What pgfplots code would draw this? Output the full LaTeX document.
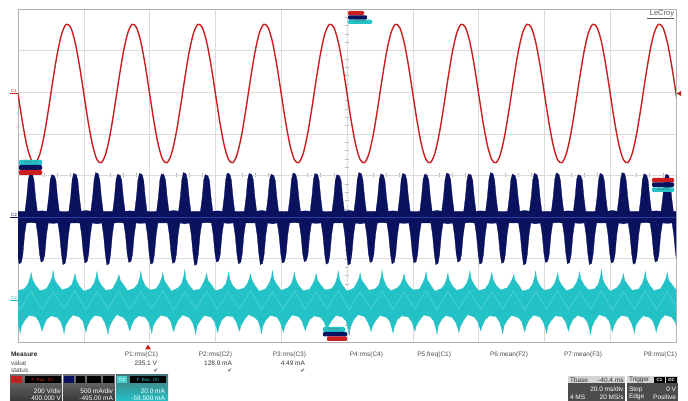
\documentclass[border=0pt]{standalone}
\usepackage{pgfplots}
\pgfplotsset{compat=1.18}
\usepackage{fontspec}
\setmainfont{Liberation Sans}
\newfontfamily\dejavu{DejaVu Sans}
\definecolor{lcred}{RGB}{204,30,30}
\definecolor{lcnavy}{RGB}{10,18,96}
\definecolor{lcnavyln}{RGB}{45,60,160}
\definecolor{lccyan}{RGB}{34,194,198}
\definecolor{lccyanlt}{RGB}{150,232,232}
\definecolor{lcteal}{RGB}{70,120,124}
\newcommand\fa{\fontsize{6.5}{7}\selectfont}
\newcommand\fb{\fontsize{4.5}{5}\selectfont}
\newcommand\fc{\fontsize{3}{3}\selectfont}
\begin{document}
\begin{tikzpicture}
\fill[white] (0,0) rectangle (688pt,401pt);
\path[use as bounding box] (0,0) rectangle (688pt,401pt);
% centre lines with minor ticks (under the traces)
\begin{scope}[x=1pt,y=-1pt,yshift=401pt]
 \draw[black!30, line width=0.5pt] (347,9) -- (347,342);
 \draw[black!30, line width=0.5pt] (18,175.5) -- (676,175.5);
 \foreach \i in {1,...,39} \draw[black!30, line width=0.4pt] (345,9+8.325*\i) -- (349,9+8.325*\i);
 \foreach \i in {1,...,49} \draw[black!30, line width=0.4pt] (18+13.16*\i,173.5) -- (18+13.16*\i,177.5);
\end{scope}
\begin{axis}[
  at={(18pt,59pt)}, anchor=south west, scale only axis,
  width=658pt, height=333pt,
  xmin=-6, xmax=294, ymin=-4, ymax=4,
  xtick={24,54,84,114,144,174,204,234,264}, ytick={-3,-2,-1,0,1,2,3},
  xticklabels={}, yticklabels={}, major tick length=0pt,
  grid=major, grid style={draw=black!14, line width=0.5pt},
  axis line style={draw=black!30, line width=0.6pt},
]
% C3 (cyan) band
\addplot[fill=lccyan, draw=lccyan, line width=0.3pt] coordinates {
(-8,-2.64) (-6,-2.77)
(-3,-2.72) (-1.4,-2.60) (-0.4,-2.44) (0,-2.33) (0.6,-2.50) (2,-2.64) (4,-2.77)
(7,-2.72) (8.6,-2.57) (9.6,-2.44) (10,-2.28) (10.6,-2.50) (12,-2.61) (14,-2.75)
(17,-2.70) (18.6,-2.62) (19.6,-2.45) (20,-2.36) (20.6,-2.52) (22,-2.66) (24,-2.78)
(27,-2.72) (28.6,-2.60) (29.6,-2.43) (30,-2.31) (30.6,-2.50) (32,-2.64) (34,-2.76)
(37,-2.73) (38.6,-2.58) (39.6,-2.46) (40,-2.38) (40.6,-2.51) (42,-2.62) (44,-2.77)
(47,-2.71) (48.6,-2.61) (49.6,-2.44) (50,-2.30) (50.6,-2.49) (52,-2.65) (54,-2.75)
(57,-2.72) (58.6,-2.59) (59.6,-2.45) (60,-2.34) (60.6,-2.51) (62,-2.63) (64,-2.78)
(67,-2.70) (68.6,-2.60) (69.6,-2.42) (70,-2.27) (70.6,-2.50) (72,-2.64) (74,-2.76)
(77,-2.73) (78.6,-2.57) (79.6,-2.44) (80,-2.35) (80.6,-2.52) (82,-2.61) (84,-2.77)
(87,-2.72) (88.6,-2.62) (89.6,-2.45) (90,-2.32) (90.6,-2.50) (92,-2.66) (94,-2.75)
(97,-2.71) (98.6,-2.60) (99.6,-2.46) (100,-2.37) (100.6,-2.51) (102,-2.64) (104,-2.78)
(107,-2.72) (108.6,-2.58) (109.6,-2.43) (110,-2.29) (110.6,-2.49) (112,-2.62) (114,-2.76)
(117,-2.70) (118.6,-2.61) (119.6,-2.44) (120,-2.33) (120.6,-2.50) (122,-2.65) (124,-2.77)
(127,-2.73) (128.6,-2.59) (129.6,-2.45) (130,-2.36) (130.6,-2.52) (132,-2.63) (134,-2.75)
(137,-2.72) (138.6,-2.60) (139.6,-2.44) (140,-2.30) (140.6,-2.50) (142,-2.64) (144,-2.78)
(147,-2.71) (148.6,-2.57) (149.6,-2.45) (150,-2.34) (150.6,-2.51) (152,-2.61) (154,-2.76)
(157,-2.72) (158.6,-2.62) (159.6,-2.43) (160,-2.28) (160.6,-2.49) (162,-2.66) (164,-2.77)
(167,-2.70) (168.6,-2.60) (169.6,-2.46) (170,-2.37) (170.6,-2.52) (172,-2.64) (174,-2.75)
(177,-2.73) (178.6,-2.58) (179.6,-2.44) (180,-2.31) (180.6,-2.50) (182,-2.62) (184,-2.78)
(187,-2.72) (188.6,-2.61) (189.6,-2.45) (190,-2.35) (190.6,-2.51) (192,-2.65) (194,-2.76)
(197,-2.71) (198.6,-2.59) (199.6,-2.43) (200,-2.29) (200.6,-2.49) (202,-2.63) (204,-2.77)
(207,-2.72) (208.6,-2.60) (209.6,-2.44) (210,-2.33) (210.6,-2.50) (212,-2.64) (214,-2.75)
(217,-2.70) (218.6,-2.57) (219.6,-2.46) (220,-2.38) (220.6,-2.52) (222,-2.61) (224,-2.78)
(227,-2.73) (228.6,-2.62) (229.6,-2.44) (230,-2.30) (230.6,-2.50) (232,-2.66) (234,-2.76)
(237,-2.72) (238.6,-2.60) (239.6,-2.45) (240,-2.34) (240.6,-2.51) (242,-2.64) (244,-2.77)
(247,-2.71) (248.6,-2.58) (249.6,-2.44) (250,-2.32) (250.6,-2.49) (252,-2.62) (254,-2.75)
(257,-2.72) (258.6,-2.61) (259.6,-2.42) (260,-2.27) (260.6,-2.50) (262,-2.65) (264,-2.78)
(267,-2.70) (268.6,-2.59) (269.6,-2.46) (270,-2.36) (270.6,-2.52) (272,-2.63) (274,-2.76)
(277,-2.73) (278.6,-2.60) (279.6,-2.44) (280,-2.31) (280.6,-2.50) (282,-2.64) (284,-2.77)
(287,-2.72) (288.6,-2.57) (289.6,-2.45) (290,-2.33) (290.6,-2.51) (292,-2.61) (294,-2.75)
(297,-2.72) (298.6,-2.60)
(299,-3.36) (297,-3.48) (295.6,-3.62) (295,-3.79) (294.6,-3.68) (293.6,-3.52) (292,-3.40)
(289,-3.35) (287,-3.46) (285.6,-3.63) (285,-3.76) (284.6,-3.67) (283.6,-3.51) (282,-3.41)
(279,-3.37) (277,-3.49) (275.6,-3.61) (275,-3.78) (274.6,-3.69) (273.6,-3.53) (272,-3.39)
(269,-3.36) (267,-3.47) (265.6,-3.62) (265,-3.75) (264.6,-3.68) (263.6,-3.50) (262,-3.40)
(259,-3.34) (257,-3.48) (255.6,-3.64) (255,-3.82) (254.6,-3.70) (253.6,-3.52) (252,-3.41)
(249,-3.36) (247,-3.46) (245.6,-3.61) (245,-3.74) (244.6,-3.67) (243.6,-3.51) (242,-3.39)
(239,-3.37) (237,-3.49) (235.6,-3.62) (235,-3.79) (234.6,-3.69) (233.6,-3.53) (232,-3.40)
(229,-3.35) (227,-3.47) (225.6,-3.63) (225,-3.76) (224.6,-3.68) (223.6,-3.50) (222,-3.41)
(219,-3.36) (217,-3.48) (215.6,-3.61) (215,-3.80) (214.6,-3.70) (213.6,-3.52) (212,-3.39)
(209,-3.37) (207,-3.46) (205.6,-3.62) (205,-3.73) (204.6,-3.67) (203.6,-3.51) (202,-3.40)
(199,-3.34) (197,-3.49) (195.6,-3.64) (195,-3.77) (194.6,-3.68) (193.6,-3.53) (192,-3.41)
(189,-3.36) (187,-3.47) (185.6,-3.62) (185,-3.81) (184.6,-3.69) (183.6,-3.50) (182,-3.39)
(179,-3.35) (177,-3.48) (175.6,-3.61) (175,-3.74) (174.6,-3.68) (173.6,-3.52) (172,-3.40)
(169,-3.37) (167,-3.46) (165.6,-3.63) (165,-3.78) (164.6,-3.70) (163.6,-3.51) (162,-3.41)
(159,-3.36) (157,-3.49) (155.6,-3.62) (155,-3.75) (154.6,-3.67) (153.6,-3.53) (152,-3.39)
(149,-3.34) (147,-3.47) (145.6,-3.64) (145,-3.83) (144.6,-3.69) (143.6,-3.50) (142,-3.40)
(139,-3.36) (137,-3.48) (135.6,-3.61) (135,-3.79) (134.6,-3.68) (133.6,-3.52) (132,-3.41)
(129,-3.37) (127,-3.46) (125.6,-3.62) (125,-3.72) (124.6,-3.67) (123.6,-3.51) (122,-3.39)
(119,-3.35) (117,-3.49) (115.6,-3.63) (115,-3.76) (114.6,-3.70) (113.6,-3.53) (112,-3.40)
(109,-3.36) (107,-3.47) (105.6,-3.62) (105,-3.80) (104.6,-3.68) (103.6,-3.50) (102,-3.41)
(99,-3.34) (97,-3.48) (95.6,-3.61) (95,-3.74) (94.6,-3.69) (93.6,-3.52) (92,-3.39)
(89,-3.37) (87,-3.46) (85.6,-3.64) (85,-3.77) (84.6,-3.67) (83.6,-3.51) (82,-3.40)
(79,-3.36) (77,-3.49) (75.6,-3.62) (75,-3.81) (74.6,-3.70) (73.6,-3.53) (72,-3.41)
(69,-3.35) (67,-3.47) (65.6,-3.63) (65,-3.75) (64.6,-3.68) (63.6,-3.50) (62,-3.39)
(59,-3.36) (57,-3.48) (55.6,-3.61) (55,-3.79) (54.6,-3.69) (53.6,-3.52) (52,-3.40)
(49,-3.37) (47,-3.46) (45.6,-3.62) (45,-3.73) (44.6,-3.67) (43.6,-3.51) (42,-3.41)
(39,-3.34) (37,-3.49) (35.6,-3.64) (35,-3.82) (34.6,-3.70) (33.6,-3.53) (32,-3.39)
(29,-3.36) (27,-3.47) (25.6,-3.62) (25,-3.76) (24.6,-3.68) (23.6,-3.50) (22,-3.40)
(19,-3.35) (17,-3.48) (15.6,-3.61) (15,-3.80) (14.6,-3.69) (13.6,-3.52) (12,-3.41)
(9,-3.37) (7,-3.46) (5.6,-3.63) (5,-3.74) (4.6,-3.67) (3.6,-3.51) (2,-3.39)
(-1,-3.36) (-3,-3.48) (-4.4,-3.62) (-5,-3.78) (-5.4,-3.68) (-6.4,-3.52) (-8,-3.40)
};
\addplot[lccyanlt, opacity=0.45, line width=0.6pt] coordinates {
(-10,-2.78) (-5,-3.22) (0,-2.78) (5,-3.22) (10,-2.80) (15,-3.20) (20,-2.77) (25,-3.23)
(30,-2.79) (35,-3.21) (40,-2.78) (45,-3.22) (50,-2.80) (55,-3.20) (60,-2.77) (65,-3.23)
(70,-2.79) (75,-3.21) (80,-2.78) (85,-3.22) (90,-2.80) (95,-3.20) (100,-2.77) (105,-3.23)
(110,-2.79) (115,-3.21) (120,-2.78) (125,-3.22) (130,-2.80) (135,-3.20) (140,-2.77) (145,-3.23)
(150,-2.79) (155,-3.21) (160,-2.78) (165,-3.22) (170,-2.80) (175,-3.20) (180,-2.77) (185,-3.23)
(190,-2.79) (195,-3.21) (200,-2.78) (205,-3.22) (210,-2.80) (215,-3.20) (220,-2.77) (225,-3.23)
(230,-2.79) (235,-3.21) (240,-2.78) (245,-3.22) (250,-2.80) (255,-3.20) (260,-2.77) (265,-3.23)
(270,-2.79) (275,-3.21) (280,-2.78) (285,-3.22) (290,-2.80) (295,-3.20) (300,-2.78)
};
% C2 (navy) band
\addplot[fill=lcnavy, draw=lcnavy, line width=0.3pt] coordinates {
(-9,-0.86)
(-2.8,-0.86) (-2.0,-0.52) (-1.3,-0.10) (-0.6,0.06) (0.6,0.03) (1.3,-0.12) (2.0,-0.52) (2.8,-0.86) (5,-0.85)
(7.2,-0.86) (8.0,-0.52) (8.7,-0.10) (9.4,0.02) (10.6,-0.01) (11.3,-0.12) (12.0,-0.52) (12.8,-0.86) (15,-0.87)
(17.2,-0.86) (18.0,-0.52) (18.7,-0.10) (19.4,0.05) (20.6,0.02) (21.3,-0.12) (22.0,-0.52) (22.8,-0.86) (25,-0.84)
(27.2,-0.86) (28.0,-0.52) (28.7,-0.10) (29.4,0.07) (30.6,0.04) (31.3,-0.12) (32.0,-0.52) (32.8,-0.86) (35,-0.86)
(37.2,-0.86) (38.0,-0.52) (38.7,-0.10) (39.4,0.03) (40.6,0.00) (41.3,-0.12) (42.0,-0.52) (42.8,-0.86) (45,-0.85)
(47.2,-0.86) (48.0,-0.52) (48.7,-0.10) (49.4,0.05) (50.6,0.02) (51.3,-0.12) (52.0,-0.52) (52.8,-0.86) (55,-0.87)
(57.2,-0.86) (58.0,-0.52) (58.7,-0.10) (59.4,0.04) (60.6,0.01) (61.3,-0.12) (62.0,-0.52) (62.8,-0.86) (65,-0.84)
(67.2,-0.86) (68.0,-0.52) (68.7,-0.10) (69.4,0.07) (70.6,0.04) (71.3,-0.12) (72.0,-0.52) (72.8,-0.86) (75,-0.86)
(77.2,-0.86) (78.0,-0.52) (78.7,-0.10) (79.4,0.02) (80.6,-0.01) (81.3,-0.12) (82.0,-0.52) (82.8,-0.86) (85,-0.85)
(87.2,-0.86) (88.0,-0.52) (88.7,-0.10) (89.4,0.06) (90.6,0.03) (91.3,-0.12) (92.0,-0.52) (92.8,-0.86) (95,-0.87)
(97.2,-0.86) (98.0,-0.52) (98.7,-0.10) (99.4,0.05) (100.6,0.02) (101.3,-0.12) (102.0,-0.52) (102.8,-0.86) (105,-0.84)
(107.2,-0.86) (108.0,-0.52) (108.7,-0.10) (109.4,0.03) (110.6,0.00) (111.3,-0.12) (112.0,-0.52) (112.8,-0.86) (115,-0.86)
(117.2,-0.86) (118.0,-0.52) (118.7,-0.10) (119.4,0.06) (120.6,0.03) (121.3,-0.12) (122.0,-0.52) (122.8,-0.86) (125,-0.85)
(127.2,-0.86) (128.0,-0.52) (128.7,-0.10) (129.4,0.05) (130.6,0.02) (131.3,-0.12) (132.0,-0.52) (132.8,-0.86) (135,-0.87)
(137.2,-0.86) (138.0,-0.52) (138.7,-0.10) (139.4,0.02) (140.6,-0.01) (141.3,-0.12) (142.0,-0.52) (142.8,-0.86) (145,-0.84)
(147.2,-0.86) (148.0,-0.52) (148.7,-0.10) (149.4,0.07) (150.6,0.04) (151.3,-0.12) (152.0,-0.52) (152.8,-0.86) (155,-0.86)
(157.2,-0.86) (158.0,-0.52) (158.7,-0.10) (159.4,0.04) (160.6,0.01) (161.3,-0.12) (162.0,-0.52) (162.8,-0.86) (165,-0.85)
(167.2,-0.86) (168.0,-0.52) (168.7,-0.10) (169.4,0.05) (170.6,0.02) (171.3,-0.12) (172.0,-0.52) (172.8,-0.86) (175,-0.87)
(177.2,-0.86) (178.0,-0.52) (178.7,-0.10) (179.4,0.03) (180.6,0.00) (181.3,-0.12) (182.0,-0.52) (182.8,-0.86) (185,-0.84)
(187.2,-0.86) (188.0,-0.52) (188.7,-0.10) (189.4,0.06) (190.6,0.03) (191.3,-0.12) (192.0,-0.52) (192.8,-0.86) (195,-0.86)
(197.2,-0.86) (198.0,-0.52) (198.7,-0.10) (199.4,0.04) (200.6,0.01) (201.3,-0.12) (202.0,-0.52) (202.8,-0.86) (205,-0.85)
(207.2,-0.86) (208.0,-0.52) (208.7,-0.10) (209.4,0.07) (210.6,0.04) (211.3,-0.12) (212.0,-0.52) (212.8,-0.86) (215,-0.87)
(217.2,-0.86) (218.0,-0.52) (218.7,-0.10) (219.4,0.03) (220.6,0.00) (221.3,-0.12) (222.0,-0.52) (222.8,-0.86) (225,-0.84)
(227.2,-0.86) (228.0,-0.52) (228.7,-0.10) (229.4,0.05) (230.6,0.02) (231.3,-0.12) (232.0,-0.52) (232.8,-0.86) (235,-0.86)
(237.2,-0.86) (238.0,-0.52) (238.7,-0.10) (239.4,0.06) (240.6,0.03) (241.3,-0.12) (242.0,-0.52) (242.8,-0.86) (245,-0.85)
(247.2,-0.86) (248.0,-0.52) (248.7,-0.10) (249.4,0.02) (250.6,-0.01) (251.3,-0.12) (252.0,-0.52) (252.8,-0.86) (255,-0.87)
(257.2,-0.86) (258.0,-0.52) (258.7,-0.10) (259.4,0.05) (260.6,0.02) (261.3,-0.12) (262.0,-0.52) (262.8,-0.86) (265,-0.84)
(267.2,-0.86) (268.0,-0.52) (268.7,-0.10) (269.4,0.07) (270.6,0.04) (271.3,-0.12) (272.0,-0.52) (272.8,-0.86) (275,-0.86)
(277.2,-0.86) (278.0,-0.52) (278.7,-0.10) (279.4,0.04) (280.6,0.01) (281.3,-0.12) (282.0,-0.52) (282.8,-0.86) (285,-0.85)
(287.2,-0.86) (288.0,-0.52) (288.7,-0.10) (289.4,0.03) (290.6,0.00) (291.3,-0.12) (292.0,-0.52) (292.8,-0.86) (295,-0.87)
(299,-0.86) (300,-1.14)
(297.8,-1.14) (297.0,-1.42) (296.2,-1.90) (295.5,-2.08) (294.5,-2.11) (293.8,-1.88) (293.0,-1.42) (292.2,-1.14) (290,-1.15)
(287.8,-1.14) (287.0,-1.42) (286.2,-1.90) (285.5,-2.05) (284.5,-2.08) (283.8,-1.88) (283.0,-1.42) (282.2,-1.14) (280,-1.13)
(277.8,-1.14) (277.0,-1.42) (276.2,-1.90) (275.5,-2.10) (274.5,-2.13) (273.8,-1.88) (273.0,-1.42) (272.2,-1.14) (270,-1.16)
(267.8,-1.14) (267.0,-1.42) (266.2,-1.90) (265.5,-2.07) (264.5,-2.10) (263.8,-1.88) (263.0,-1.42) (262.2,-1.14) (260,-1.14)
(257.8,-1.14) (257.0,-1.42) (256.2,-1.90) (255.5,-2.11) (254.5,-2.14) (253.8,-1.88) (253.0,-1.42) (252.2,-1.14) (250,-1.15)
(247.8,-1.14) (247.0,-1.42) (246.2,-1.90) (245.5,-2.09) (244.5,-2.12) (243.8,-1.88) (243.0,-1.42) (242.2,-1.14) (240,-1.13)
(237.8,-1.14) (237.0,-1.42) (236.2,-1.90) (235.5,-2.06) (234.5,-2.09) (233.8,-1.88) (233.0,-1.42) (232.2,-1.14) (230,-1.16)
(227.8,-1.14) (227.0,-1.42) (226.2,-1.90) (225.5,-2.12) (224.5,-2.15) (223.8,-1.88) (223.0,-1.42) (222.2,-1.14) (220,-1.14)
(217.8,-1.14) (217.0,-1.42) (216.2,-1.90) (215.5,-2.08) (214.5,-2.11) (213.8,-1.88) (213.0,-1.42) (212.2,-1.14) (210,-1.15)
(207.8,-1.14) (207.0,-1.42) (206.2,-1.90) (205.5,-2.10) (204.5,-2.13) (203.8,-1.88) (203.0,-1.42) (202.2,-1.14) (200,-1.13)
(197.8,-1.14) (197.0,-1.42) (196.2,-1.90) (195.5,-2.05) (194.5,-2.08) (193.8,-1.88) (193.0,-1.42) (192.2,-1.14) (190,-1.16)
(187.8,-1.14) (187.0,-1.42) (186.2,-1.90) (185.5,-2.11) (184.5,-2.14) (183.8,-1.88) (183.0,-1.42) (182.2,-1.14) (180,-1.14)
(177.8,-1.14) (177.0,-1.42) (176.2,-1.90) (175.5,-2.07) (174.5,-2.10) (173.8,-1.88) (173.0,-1.42) (172.2,-1.14) (170,-1.15)
(167.8,-1.14) (167.0,-1.42) (166.2,-1.90) (165.5,-2.09) (164.5,-2.12) (163.8,-1.88) (163.0,-1.42) (162.2,-1.14) (160,-1.13)
(157.8,-1.14) (157.0,-1.42) (156.2,-1.90) (155.5,-2.06) (154.5,-2.09) (153.8,-1.88) (153.0,-1.42) (152.2,-1.14) (150,-1.16)
(147.8,-1.14) (147.0,-1.42) (146.2,-1.90) (145.5,-2.12) (144.5,-2.15) (143.8,-1.88) (143.0,-1.42) (142.2,-1.14) (140,-1.14)
(137.8,-1.14) (137.0,-1.42) (136.2,-1.90) (135.5,-2.10) (134.5,-2.13) (133.8,-1.88) (133.0,-1.42) (132.2,-1.14) (130,-1.15)
(127.8,-1.14) (127.0,-1.42) (126.2,-1.90) (125.5,-2.04) (124.5,-2.07) (123.8,-1.88) (123.0,-1.42) (122.2,-1.14) (120,-1.13)
(117.8,-1.14) (117.0,-1.42) (116.2,-1.90) (115.5,-2.07) (114.5,-2.10) (113.8,-1.88) (113.0,-1.42) (112.2,-1.14) (110,-1.16)
(107.8,-1.14) (107.0,-1.42) (106.2,-1.90) (105.5,-2.11) (104.5,-2.14) (103.8,-1.88) (103.0,-1.42) (102.2,-1.14) (100,-1.14)
(97.8,-1.14) (97.0,-1.42) (96.2,-1.90) (95.5,-2.09) (94.5,-2.12) (93.8,-1.88) (93.0,-1.42) (92.2,-1.14) (90,-1.15)
(87.8,-1.14) (87.0,-1.42) (86.2,-1.90) (85.5,-2.05) (84.5,-2.08) (83.8,-1.88) (83.0,-1.42) (82.2,-1.14) (80,-1.13)
(77.8,-1.14) (77.0,-1.42) (76.2,-1.90) (75.5,-2.13) (74.5,-2.16) (73.8,-1.88) (73.0,-1.42) (72.2,-1.14) (70,-1.16)
(67.8,-1.14) (67.0,-1.42) (66.2,-1.90) (65.5,-2.08) (64.5,-2.11) (63.8,-1.88) (63.0,-1.42) (62.2,-1.14) (60,-1.14)
(57.8,-1.14) (57.0,-1.42) (56.2,-1.90) (55.5,-2.10) (54.5,-2.13) (53.8,-1.88) (53.0,-1.42) (52.2,-1.14) (50,-1.15)
(47.8,-1.14) (47.0,-1.42) (46.2,-1.90) (45.5,-2.06) (44.5,-2.09) (43.8,-1.88) (43.0,-1.42) (42.2,-1.14) (40,-1.13)
(37.8,-1.14) (37.0,-1.42) (36.2,-1.90) (35.5,-2.12) (34.5,-2.15) (33.8,-1.88) (33.0,-1.42) (32.2,-1.14) (30,-1.16)
(27.8,-1.14) (27.0,-1.42) (26.2,-1.90) (25.5,-2.07) (24.5,-2.10) (23.8,-1.88) (23.0,-1.42) (22.2,-1.14) (20,-1.14)
(17.8,-1.14) (17.0,-1.42) (16.2,-1.90) (15.5,-2.11) (14.5,-2.14) (13.8,-1.88) (13.0,-1.42) (12.2,-1.14) (10,-1.15)
(7.8,-1.14) (7.0,-1.42) (6.2,-1.90) (5.5,-2.05) (4.5,-2.08) (3.8,-1.88) (3.0,-1.42) (2.2,-1.14) (0,-1.13)
(-2.2,-1.14) (-3.0,-1.42) (-3.8,-1.90) (-4.5,-2.09) (-5.5,-2.12) (-6.2,-1.88) (-7.0,-1.42) (-7.8,-1.14) (-9,-1.14)
};
\addplot[lcnavyln, line width=0.6pt] coordinates {(-6,-1) (294,-1)};
% C1 (red) sine
\addplot[lcred, line width=1.4pt, smooth] coordinates {
(-6,1.970) (-4,1.291) (-2,0.729) (0,0.382) (2,0.309) (4,0.524) (6,0.988) (8,1.623) (10,2.317) (12,2.952) (14,3.416) (16,3.631) (18,3.558) (20,3.211) (22,2.649)
(24,1.970) (26,1.291) (28,0.729) (30,0.382) (32,0.309) (34,0.524) (36,0.988) (38,1.623) (40,2.317) (42,2.952) (44,3.416) (46,3.631) (48,3.558) (50,3.211) (52,2.649)
(54,1.970) (56,1.291) (58,0.729) (60,0.382) (62,0.309) (64,0.524) (66,0.988) (68,1.623) (70,2.317) (72,2.952) (74,3.416) (76,3.631) (78,3.558) (80,3.211) (82,2.649)
(84,1.970) (86,1.291) (88,0.729) (90,0.382) (92,0.309) (94,0.524) (96,0.988) (98,1.623) (100,2.317) (102,2.952) (104,3.416) (106,3.631) (108,3.558) (110,3.211) (112,2.649)
(114,1.970) (116,1.291) (118,0.729) (120,0.382) (122,0.309) (124,0.524) (126,0.988) (128,1.623) (130,2.317) (132,2.952) (134,3.416) (136,3.631) (138,3.558) (140,3.211) (142,2.649)
(144,1.970) (146,1.291) (148,0.729) (150,0.382) (152,0.309) (154,0.524) (156,0.988) (158,1.623) (160,2.317) (162,2.952) (164,3.416) (166,3.631) (168,3.558) (170,3.211) (172,2.649)
(174,1.970) (176,1.291) (178,0.729) (180,0.382) (182,0.309) (184,0.524) (186,0.988) (188,1.623) (190,2.317) (192,2.952) (194,3.416) (196,3.631) (198,3.558) (200,3.211) (202,2.649)
(204,1.970) (206,1.291) (208,0.729) (210,0.382) (212,0.309) (214,0.524) (216,0.988) (218,1.623) (220,2.317) (222,2.952) (224,3.416) (226,3.631) (228,3.558) (230,3.211) (232,2.649)
(234,1.970) (236,1.291) (238,0.729) (240,0.382) (242,0.309) (244,0.524) (246,0.988) (248,1.623) (250,2.317) (252,2.952) (254,3.416) (256,3.631) (258,3.558) (260,3.211) (262,2.649)
(264,1.970) (266,1.291) (268,0.729) (270,0.382) (272,0.309) (274,0.524) (276,0.988) (278,1.623) (280,2.317) (282,2.952) (284,3.416) (286,3.631) (288,3.558) (290,3.211) (292,2.649)
(294,1.970) (296,1.291)
};
\end{axis}
% annotations in screen pixels (y downwards)
\begin{scope}[x=1pt,y=-1pt,yshift=401pt, every node/.style={inner sep=0pt, outer sep=0pt}]
 % offset / trigger markers
 \fill[lcred, rounded corners=1.2pt] (348,11) rectangle (364,15.3);
 \fill[lcnavy, rounded corners=1.2pt] (348,15.3) rectangle (367,19.6);
 \fill[lccyan, rounded corners=1.2pt] (348,19.6) rectangle (372,24);
 \node[font=\fc, text=black!60] at (360,21.8) {-40.4 ms};
 \fill[lccyan, rounded corners=1.2pt] (19,160) rectangle (42,165);
 \node[font=\fc, text=black!60] at (30.5,162.5) {-180.4 ms};
 \fill[lcnavy, rounded corners=1.2pt] (19,165) rectangle (42,170);
 \fill[lcred, rounded corners=1.2pt] (19,170) rectangle (42,175);
 \fill[lcred, rounded corners=1.2pt] (652,178) rectangle (674,182.5);
 \fill[lcnavy, rounded corners=1.2pt] (652,182.5) rectangle (674,187);
 \fill[lccyan, rounded corners=1.2pt] (652,187.5) rectangle (674,192);
 \node[font=\fc, text=black!60] at (663,189.8) {180.4 ms};
 \fill[lccyan, rounded corners=1.2pt] (323,327) rectangle (345,332);
 \node[font=\fc, text=black!60] at (334,329.5) {-59.5 mA};
 \fill[lcnavy, rounded corners=1.2pt] (323,332) rectangle (347,336.5);
 \fill[lcred, rounded corners=1.2pt] (327,336.5) rectangle (347,341);
 % channel labels
 \node[font=\fb, text=lcred, anchor=east] at (17,90.5) {C1};
 \draw[lcred, line width=0.4pt] (10,93.5) -- (18,93.5);
 \node[font=\fb, text=lcnavy, anchor=east] at (17,214.5) {C2};
 \draw[lcnavy, line width=0.5pt] (10,217.5) -- (18,217.5);
 \node[font=\fb, text=lccyan, anchor=east] at (17,297.5) {C3};
 \draw[lccyan, line width=0.4pt] (10,300.5) -- (18,300.5);
 \fill[lcred] (676.5,93.5) -- (681,91) -- (681,96) -- cycle;
 % LeCroy
 \node[font=\fontsize{7.5}{8}\selectfont, text=black!65, anchor=east] at (674,14) {LeCroy};
 \draw[black!65, line width=0.4pt] (647,18.5) -- (674,18.5);
 % trigger time marker
 \fill[lcred] (145,349.5) -- (151,349.5) -- (148,344.5) -- cycle;
 % Measure table
 \node[font=\fa\bfseries, text=black!85, anchor=west] at (11,354.7) {Measure};
 \node[font=\fa, text=black!70, anchor=west] at (11,363) {value};
 \node[font=\fa, text=black!70, anchor=west] at (11,370.8) {status};
 \node[font=\fa, text=black!70, anchor=east] at (158,354.7) {P1:rms(C1)};
 \node[font=\fa, text=black!70, anchor=east] at (232,354.7) {P2:rms(C2)};
 \node[font=\fa, text=black!70, anchor=east] at (306,354.7) {P3:rms(C3)};
 \node[font=\fa, text=black!70, anchor=east] at (383,354.7) {P4:rms(C4)};
 \node[font=\fa, text=black!70, anchor=east] at (451,354.7) {P5:freq(C1)};
 \node[font=\fa, text=black!70, anchor=east] at (528,354.7) {P6:mean(F2)};
 \node[font=\fa, text=black!70, anchor=east] at (602,354.7) {P7:mean(F3)};
 \node[font=\fa, text=black!70, anchor=east] at (677,354.7) {P8:rms(C1)};
 \node[font=\fa, text=black!80, anchor=east] at (157,363) {235.1 V};
 \node[font=\fa, text=black!80, anchor=east] at (232,363) {128.9 mA};
 \node[font=\fa, text=black!80, anchor=east] at (305,363) {4.49 mA};
 \node[font=\dejavu\fontsize{5.5}{6}\selectfont, text=black!75] at (156,370.8) {✔};
 \node[font=\dejavu\fontsize{5.5}{6}\selectfont, text=black!75] at (230,370.8) {✔};
 \node[font=\dejavu\fontsize{5.5}{6}\selectfont, text=black!75] at (303,370.8) {✔};
 % channel boxes
 \shade[top color=black!55, bottom color=black!78] (10,375) rectangle (62,401);
 \fill[lcred] (11,376.5) rectangle (22,383);
 \node[font=\fb, text=black!70] at (16.5,379.8) {C1};
 \fill[black] (25,376.5) rectangle (61,383);
 \node[font=\fb, text=lcred] at (43,379.8) {F\enspace BwL\enspace DC};
 \node[font=\fa, text=white, anchor=east] at (61,391.5) {200 V/div};
 \node[font=\fa, text=white, anchor=east] at (61,398.3) {400.000 V};
 \shade[top color=black!55, bottom color=black!78] (63,375) rectangle (115,401);
 \fill[lcnavy] (64,376.5) rectangle (74,383);
 \fill[black] (76,376.5) rectangle (85,383);
 \fill[black] (86.5,376.5) rectangle (101,383);
 \fill[black] (102.5,376.5) rectangle (114,383);
 \node[font=\fa, text=white, anchor=east] at (113,391.5) {500 mA/div};
 \node[font=\fa, text=white, anchor=east] at (113,398.3) {-495.00 mA};
 \shade[top color=lcteal, bottom color=lccyan] (116,375) rectangle (168,401);
 \fill[lccyan!80!white] (117,376.5) rectangle (127,383);
 \node[font=\fb, text=white] at (122,379.8) {C3};
 \fill[black] (130,376.5) rectangle (166,383);
 \node[font=\fb, text=lccyan] at (148,379.8) {F\enspace BwL\enspace DC};
 \node[font=\fa, text=white, anchor=east] at (165,391.5) {20.0 mA};
 \node[font=\fa, text=white, anchor=east] at (165,398.3) {-59.500 mA};
 % timebase box
 \fill[black!17] (568,376) rectangle (625,383.5);
 \fill[black!70] (568,383.5) rectangle (625,401);
 \node[font=\fa, text=black!80, anchor=west] at (570,379.8) {Tbase};
 \node[font=\fa, text=black!80, anchor=east] at (623.5,379.8) {-40.4 ms};
 \node[font=\fa, text=white, anchor=east] at (623.5,389.5) {20.0 ms/div};
 \node[font=\fa, text=white, anchor=west] at (570,397) {4 MS};
 \node[font=\fa, text=white, anchor=east] at (623.5,397) {20 MS/s};
 % trigger box
 \fill[black!17] (627,376) rectangle (678,383.5);
 \fill[black!70] (627,383.5) rectangle (678,401);
 \node[font=\fa, text=black!80, anchor=west] at (629,379.8) {Trigger};
 \fill[black] (654,377) rectangle (665,383);
 \node[font=\fb\bfseries, text=white] at (659.5,380) {C1};
 \fill[black] (666,377) rectangle (677,383);
 \node[font=\fb\bfseries, text=white] at (671.5,380) {DC};
 \node[font=\fa, text=white, anchor=west] at (629,389.5) {Stop};
 \node[font=\fa, text=white, anchor=east] at (676,389.5) {0 V};
 \node[font=\fa, text=white, anchor=west] at (629,397) {Edge};
 \node[font=\fa, text=white, anchor=east] at (676,397) {Positive};
\end{scope}
\end{tikzpicture}
\end{document}
